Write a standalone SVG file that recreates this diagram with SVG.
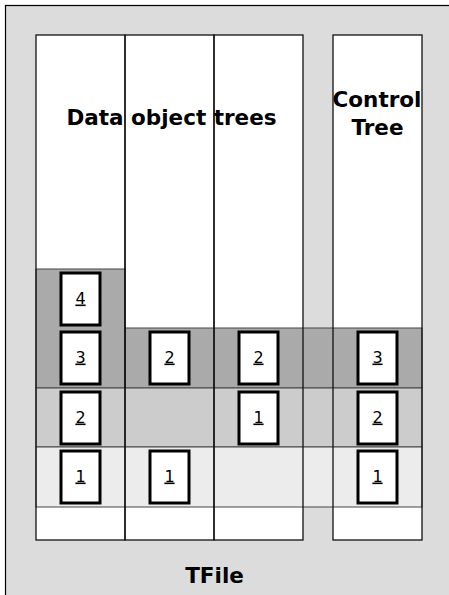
<svg xmlns="http://www.w3.org/2000/svg" width="449" height="595" viewBox="0 0 449 595">
  <style>
    .frame { fill: #dcdcdc; stroke: #000; stroke-width: 1.2; }
    .col-fill { fill: #fff; }
    .col-line { fill: none; stroke: #111; stroke-width: 1.3; }
    .band-dark { fill: #aaaaaa; stroke: #444; stroke-width: 1; }
    .band-mid { fill: #cccccc; stroke: #444; stroke-width: 1; }
    .band-light { fill: #ececec; stroke: #444; stroke-width: 1; }
    .key rect { fill: #fff; stroke: #000; stroke-width: 3; }
    .key text { font-family: "DejaVu Sans", sans-serif; font-size: 16px; text-anchor: middle; text-decoration: underline; fill: #000; }
    .title { font-family: "DejaVu Sans", sans-serif; font-weight: bold; font-size: 21.5px; text-anchor: middle; fill: #000; }
  </style>

  <!-- file frame -->
  <rect class="frame" x="5.5" y="5.5" width="460" height="600"/>

  <!-- column backgrounds -->
  <rect class="col-fill" x="36" y="35" width="267" height="505"/>
  <rect class="col-fill" x="333" y="35" width="89" height="505"/>

  <!-- cycle bands -->
  <rect class="band-dark" x="125" y="328" width="297" height="60"/>
  <rect class="band-dark" x="36" y="269" width="89" height="119"/>
  <rect class="band-mid" x="36" y="388" width="386" height="59"/>
  <rect class="band-light" x="36" y="447" width="386" height="60"/>

  <!-- column outlines -->
  <g id="columns">
    <rect class="col-line" x="36" y="35" width="89" height="505"/>
    <rect class="col-line" x="125" y="35" width="89" height="505"/>
    <rect class="col-line" x="214" y="35" width="89" height="505"/>
    <rect class="col-line" x="333" y="35" width="89" height="505"/>
  </g>

  <!-- headings -->
  <text class="title" x="171.5" y="124.5">Data object trees</text>
  <text class="title" x="377" y="106.5">Control</text>
  <text class="title" x="377.5" y="135">Tree</text>
  <text class="title" x="214.5" y="582.5">TFile</text>

  <!-- keys, column 1 -->
  <g id="c1k4" class="key"><rect x="61" y="273" width="39" height="52"/><text x="80.5" y="303.5">4</text></g>
  <g id="c1k3" class="key"><rect x="61" y="332" width="39" height="52"/><text x="80.5" y="362.5">3</text></g>
  <g id="c1k2" class="key"><rect x="61" y="392" width="39" height="52"/><text x="80.5" y="422.5">2</text></g>
  <g id="c1k1" class="key"><rect x="61" y="451" width="39" height="52"/><text x="80.5" y="481.5">1</text></g>

  <!-- keys, column 2 -->
  <g id="c2k2" class="key"><rect x="150" y="332" width="39" height="52"/><text x="169.5" y="362.5">2</text></g>
  <g id="c2k1" class="key"><rect x="150" y="451" width="39" height="52"/><text x="169.5" y="481.5">1</text></g>

  <!-- keys, column 3 -->
  <g id="c3k2" class="key"><rect x="239" y="332" width="39" height="52"/><text x="258.5" y="362.5">2</text></g>
  <g id="c3k1" class="key"><rect x="239" y="392" width="39" height="52"/><text x="258.5" y="422.5">1</text></g>

  <!-- keys, control tree -->
  <g id="ctk3" class="key"><rect x="358" y="332" width="39" height="52"/><text x="377.5" y="362.5">3</text></g>
  <g id="ctk2" class="key"><rect x="358" y="392" width="39" height="52"/><text x="377.5" y="422.5">2</text></g>
  <g id="ctk1" class="key"><rect x="358" y="451" width="39" height="52"/><text x="377.5" y="481.5">1</text></g>
</svg>
